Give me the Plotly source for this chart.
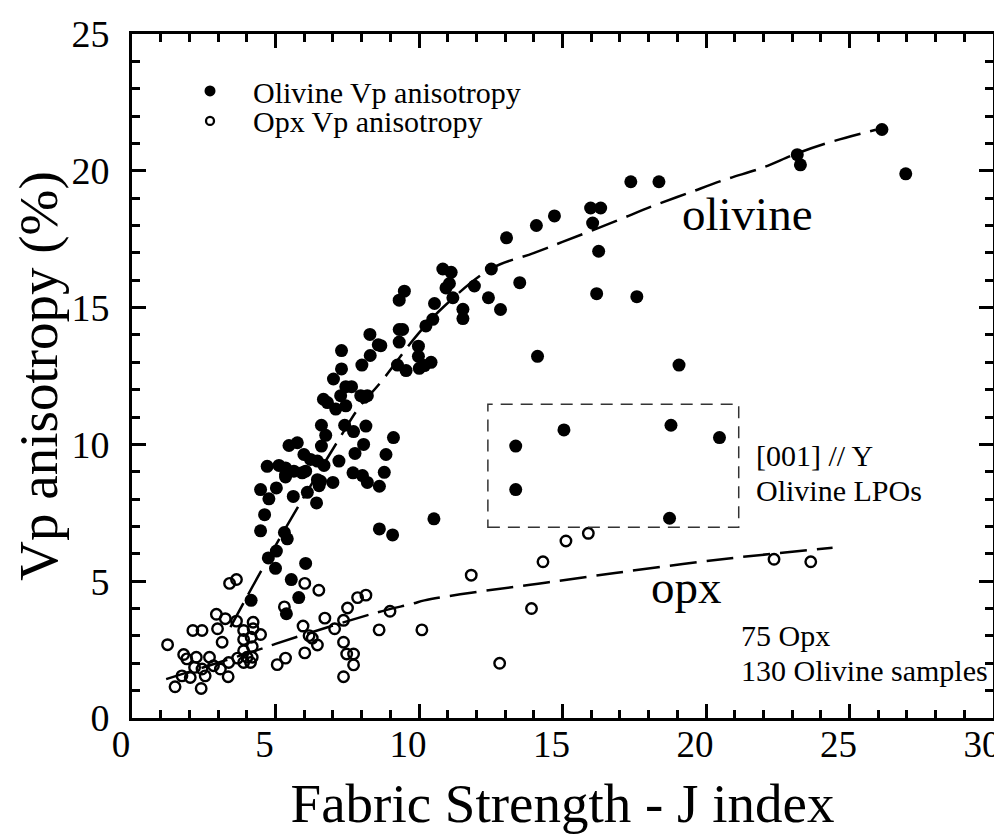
import plotly.graph_objects as go

# ---------------- data ----------------
olivine_x = [26.13, 26.96, 23.18, 23.29, 17.38, 18.36, 15.98, 16.33, 16.05, 16.26,
             16.19, 17.59, 19.06, 13.05, 14.09, 14.72, 14.13, 13.51, 12.52, 12.84,
             12.42, 11.93, 11.53, 11.53, 10.83, 11.12, 11.06, 10.94, 11.18, 10.54,
             10.48, 10.24, 9.49, 9.31, 9.31, 9.43, 9.31, 9.98, 9.98, 9.25,
             9.55, 10.01, 10.42, 10.19, 9.11, 10.52, 8.67, 8.29, 8.58, 8.30,
             8.01, 7.30, 7.30, 7.02, 7.45, 7.65, 6.67, 7.27, 7.97, 8.20,
             7.10, 7.45, 6.81, 8.09, 6.60, 6.75, 6.60, 5.47, 5.76, 7.41,
             7.72, 8.15, 8.07, 5.99, 6.22, 6.46, 6.69, 7.21, 7.77, 8.85,
             4.71, 5.12, 5.35, 5.35, 5.64, 5.93, 6.05, 5.35, 6.46, 6.57,
             6.52, 7.00, 7.70, 8.03, 8.20, 8.79, 8.62, 4.48, 5.03, 4.77,
             5.62, 6.11, 6.43, 4.62, 4.48, 5.31, 5.41, 5.03, 4.75, 5.00,
             6.05, 5.55, 5.81, 4.15, 5.38, 8.62, 9.08,
             13.37, 13.37, 15.05, 18.78, 20.47, 18.73]
olivine_y = [21.51, 19.89, 20.59, 20.22, 19.60, 19.60, 18.64, 18.64, 18.09, 17.06,
             15.51, 15.40, 12.90, 17.55, 18.00, 18.35, 13.22, 15.91, 16.41, 14.93,
             15.36, 15.79, 14.94, 14.60, 16.41, 16.29, 15.88, 15.72, 15.36, 15.15,
             14.57, 14.33, 15.60, 15.27, 14.20, 14.20, 13.74, 13.59, 13.22, 12.90,
             12.70, 12.78, 13.00, 12.88, 10.25, 7.28, 13.61, 14.02, 13.64, 13.25,
             12.90, 13.43, 12.76, 12.39, 12.11, 12.11, 11.65, 11.78, 11.78, 11.78,
             11.29, 11.41, 11.53, 11.72, 10.70, 10.33, 9.94, 9.96, 10.06, 10.70,
             10.47, 10.67, 10.00, 9.63, 9.45, 9.39, 9.23, 9.39, 9.67, 9.63,
             9.20, 9.23, 9.14, 8.90, 9.02, 8.96, 9.02, 8.81, 8.71, 8.65,
             8.49, 8.61, 8.96, 8.86, 8.61, 8.98, 8.47, 8.35, 8.41, 8.01,
             8.10, 8.25, 7.86, 7.43, 6.84, 6.78, 6.55, 6.10, 5.85, 5.47,
             5.65, 5.06, 4.40, 4.30, 3.81, 6.91, 6.69,
             9.94, 8.35, 10.53, 10.70, 10.25, 7.30]

opx_x = [1.24, 1.50, 1.74, 2.03, 1.80, 1.91, 2.24, 2.18, 2.44, 2.55,
         2.41, 2.70, 2.84, 3.08, 3.35, 3.37, 2.12, 2.44, 2.94, 3.25,
         2.98, 3.64, 3.14, 3.40, 3.64, 3.68, 3.89, 3.89, 4.22, 4.22,
         4.15, 4.48, 3.89, 4.01, 4.19, 4.19, 3.89, 4.13, 5.31, 5.06,
         5.35, 6.02, 6.51, 7.86, 8.15, 7.51, 6.72, 7.37, 7.06, 5.96,
         6.17, 6.28, 6.46, 6.02, 7.37, 7.48, 7.72, 7.72, 7.37, 8.99,
         8.61, 10.10, 15.90, 15.12, 14.32, 13.92, 12.81, 22.37, 23.65, 11.82]
opx_y = [2.68, 1.14, 1.54, 1.48, 2.32, 2.16, 2.22, 1.85, 1.79, 1.54,
         1.08, 2.22, 1.91, 1.79, 1.51, 2.03, 3.20, 3.20, 3.79, 3.63,
         3.26, 3.54, 2.77, 4.92, 5.06, 2.19, 3.20, 2.87, 3.50, 3.26,
         2.95, 3.05, 2.46, 2.22, 2.61, 2.22, 2.03, 2.03, 4.06, 1.95,
         2.19, 4.92, 4.67, 4.40, 4.49, 4.02, 3.65, 3.57, 3.26, 3.36,
         3.01, 2.92, 2.67, 2.38, 2.77, 2.34, 2.34, 1.94, 1.51, 3.90,
         3.22, 3.22, 6.75, 6.47, 5.71, 4.00, 2.00, 5.80, 5.71, 5.22]

# trend curves as drawn in the picture
olivine_fit_x = [3.43, 4.53, 5.87, 7.27, 7.87, 8.69, 9.97, 10.87, 12.52, 13.99,
                 15.00, 16.83, 18.11, 19.39, 20.67, 21.96, 23.18, 24.46, 25.92]
olivine_fit_y = [3.32, 5.43, 7.87, 10.29, 11.29, 12.30, 14.04, 15.04, 16.43, 16.99,
                 17.40, 18.15, 18.70, 19.19, 19.68, 20.11, 20.64, 21.09, 21.50]
opx_fit_x = [1.19, 4.59, 5.00, 8.44, 9.78, 10.19, 11.82, 14.15, 16.83, 20.79, 24.41]
opx_fit_y = [1.42, 2.56, 2.71, 3.83, 4.18, 4.30, 4.58, 4.91, 5.30, 5.83, 6.22]

# dashed box around the [001]//Y LPO group
box_x = [12.40, 21.14]
box_y = [6.97, 11.47]

x_ticks = [0, 5, 10, 15, 20, 25, 30]
y_ticks = [0, 5, 10, 15, 20, 25]

legend_labels = ["Olivine Vp anisotropy", "Opx Vp anisotropy"]
x_title = "Fabric Strength - J index"
y_title = "Vp anisotropy (%)"

# ---------------- figure ----------------
SERIF = "Liberation Serif, Times New Roman, serif"
fig = go.Figure()

fig.add_trace(go.Scatter(x=olivine_fit_x, y=olivine_fit_y, mode="lines",
                         line=dict(color="black", width=2.5, dash="27px,10px", shape="spline"),
                         hoverinfo="skip", showlegend=False))
fig.add_trace(go.Scatter(x=opx_fit_x, y=opx_fit_y, mode="lines",
                         line=dict(color="black", width=2.5, dash="27px,10px", shape="spline"),
                         hoverinfo="skip", showlegend=False))

fig.add_trace(go.Scatter(x=opx_x, y=opx_y, mode="markers", name=legend_labels[1],
                         marker=dict(symbol="circle-open", size=10.5, color="black",
                                     line=dict(color="black", width=2.4)),
                         showlegend=False))
fig.add_trace(go.Scatter(x=olivine_x, y=olivine_y, mode="markers", name=legend_labels[0],
                         marker=dict(symbol="circle", size=13, color="black",
                                     line=dict(width=0)),
                         showlegend=False))

fig.add_shape(type="rect", xref="x", yref="y",
              x0=box_x[0], x1=box_x[1], y0=box_y[0], y1=box_y[1],
              line=dict(color="#333333", width=1.5, dash="12px,8px"))

# legend (drawn manually to match spacing)
fig.add_shape(type="circle", xref="paper", yref="paper", xsizemode="pixel", ysizemode="pixel",
              xanchor=0.0906, yanchor=0.9167, x0=-5.5, x1=5.5, y0=-5.5, y1=5.5,
              fillcolor="black", line=dict(color="black", width=0))
fig.add_shape(type="circle", xref="paper", yref="paper", xsizemode="pixel", ysizemode="pixel",
              xanchor=0.0906, yanchor=0.8729, x0=-4, x1=4, y0=-4, y1=4,
              fillcolor="white", line=dict(color="black", width=2.3))

def txt(x, y, s, size, xanchor="left", xref="x", yref="y"):
    fig.add_annotation(x=x, y=y, xref=xref, yref=yref, text=s, showarrow=False,
                       xanchor=xanchor, yanchor="middle", borderpad=0,
                       font=dict(family=SERIF, size=size, color="black"))

txt(0.1394, 0.9152, legend_labels[0], 30, xref="paper", yref="paper")
txt(0.1394, 0.8728, legend_labels[1], 30, xref="paper", yref="paper")

txt(21.43, 18.42, "olivine", 47, xanchor="center")
txt(19.33, 4.79, "opx", 47, xanchor="center")
txt(21.71, 9.61, "[001] // Y", 30)
txt(21.71, 8.33, "Olivine LPOs", 30)
txt(21.18, 3.03, "75 Opx", 30)
txt(21.18, 1.75, "130 Olivine samples", 30)

axis_common = dict(showgrid=False, zeroline=False, showline=True, linecolor="black",
                   linewidth=3, mirror="ticks", ticks="inside", ticklen=14, tickwidth=2.5,
                   tickcolor="black", automargin=False,
                   minor=dict(dtick=1, ticks="inside", ticklen=8, tickwidth=2.5,
                              tickcolor="black", showgrid=False))

fig.update_xaxes(range=[0, 30], tickvals=x_ticks, ticktext=[str(v) for v in x_ticks],
                 tickfont=dict(family=SERIF, size=37, color="black"),
                 title=dict(text=x_title, font=dict(family=SERIF, size=55, color="black"),
                            standoff=22),
                 ticklabelstandoff=-8, ticklabelshift=-11, ticklabeloverflow="allow",
                 **axis_common)
fig.update_yaxes(range=[0, 25], tickvals=y_ticks, ticktext=[str(v) for v in y_ticks],
                 tickfont=dict(family=SERIF, size=38, color="black"),
                 title=dict(text=y_title, font=dict(family=SERIF, size=55, color="black"),
                            standoff=8),
                 ticklabelstandoff=12,
                 **axis_common)

# the page body adds an 8px margin, so the figure is 8px smaller than the window
fig.update_layout(width=994, height=826, autosize=False,
                  margin=dict(l=124, r=9, t=26, b=116),
                  paper_bgcolor="white", plot_bgcolor="white",
                  showlegend=False)

fig.write_html("out.html")
